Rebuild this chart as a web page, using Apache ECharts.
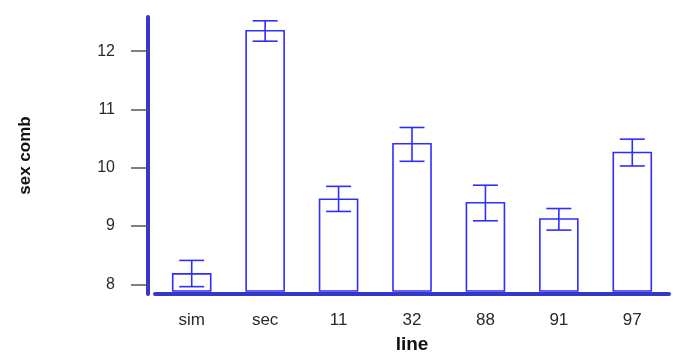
<!DOCTYPE html>
<html>
<head>
<meta charset="utf-8">
<script src="https://cdn.jsdelivr.net/npm/echarts@6/dist/echarts.min.js"></script>
<style>
  html, body { margin: 0; padding: 0; background: #fff; }
  #chart { width: 673px; height: 352px; }
</style>
</head>
<body>
<div id="chart"></div>
<script>
  // 数据
  var lines = ['sim', 'sec', '11', '32', '88', '91', '97'];
  var means = [8.18, 12.35, 9.46, 10.41, 9.40, 9.12, 10.26];
  var errLow = [7.96, 12.17, 9.25, 10.11, 9.09, 8.93, 10.03];
  var errHigh = [8.41, 12.52, 9.68, 10.69, 9.70, 9.30, 10.49];
  var yTicks = [8, 9, 10, 11, 12];
  var barBase = 7.885;   // bars start a bit above the axis line

  var myChart = echarts.init(document.getElementById('chart'));

  var option = {
    animation: false,
    grid: { left: 155, right: 4, top: 17, bottom: 58, outerBoundsMode: 'none' },
    xAxis: {
      type: 'category',
      data: lines,
      name: 'line',
      nameLocation: 'middle',
      nameGap: 41,
      nameTextStyle: { fontFamily: 'Liberation Sans', fontWeight: 'bold', fontSize: 19, color: '#111' },
      axisLine: { lineStyle: { color: '#3636c8', width: 4 } },
      axisTick: { alignWithLabel: true, length: 9, lineStyle: { color: '#444', width: 1.5 } },
      axisLabel: { margin: 18, fontFamily: 'Liberation Sans', fontSize: 17, color: '#2a2a2a' }
    },
    yAxis: {
      type: 'value',
      min: 7.834,
      max: 12.585,
      offset: 7,
      name: 'sex comb',
      nameLocation: 'middle',
      nameGap: 114,
      nameTextStyle: { fontFamily: 'Liberation Sans', fontWeight: 'bold', fontSize: 17, color: '#111' },
      splitLine: { show: false },
      axisLine: { show: true, lineStyle: { color: '#3636c8', width: 4 } },
      axisTick: { show: true, length: 17, customValues: yTicks, lineStyle: { color: '#555', width: 1.5 } },
      axisLabel: { margin: 33, customValues: yTicks, fontFamily: 'Liberation Sans', fontSize: 16, color: '#2a2a2a' }
    },
    series: [
      {
        // 柱子
        type: 'custom',
        data: means.map(function (v, i) { return [i, v]; }),
        renderItem: function (params, api) {
          var top = api.coord([api.value(0), api.value(1)]);
          var bottom = api.coord([api.value(0), barBase]);
          var w = 38;
          return {
            type: 'rect',
            shape: { x: top[0] - w / 2, y: top[1], width: w, height: bottom[1] - top[1] },
            style: { fill: '#fff', stroke: '#2e2eff', lineWidth: 1.6 }
          };
        }
      },
      {
        // 误差线
        type: 'custom',
        data: lines.map(function (c, i) { return [i, errLow[i], errHigh[i]]; }),
        renderItem: function (params, api) {
          var lo = api.coord([api.value(0), api.value(1)]);
          var hi = api.coord([api.value(0), api.value(2)]);
          var cap = 12.5;
          var st = { stroke: '#2e2eff', lineWidth: 1.6 };
          return {
            type: 'group',
            children: [
              { type: 'line', shape: { x1: lo[0], y1: lo[1], x2: hi[0], y2: hi[1] }, style: st },
              { type: 'line', shape: { x1: hi[0] - cap, y1: hi[1], x2: hi[0] + cap, y2: hi[1] }, style: st },
              { type: 'line', shape: { x1: lo[0] - cap, y1: lo[1], x2: lo[0] + cap, y2: lo[1] }, style: st }
            ]
          };
        }
      }
    ]
  };
  myChart.setOption(option);
</script>
</body>
</html>
